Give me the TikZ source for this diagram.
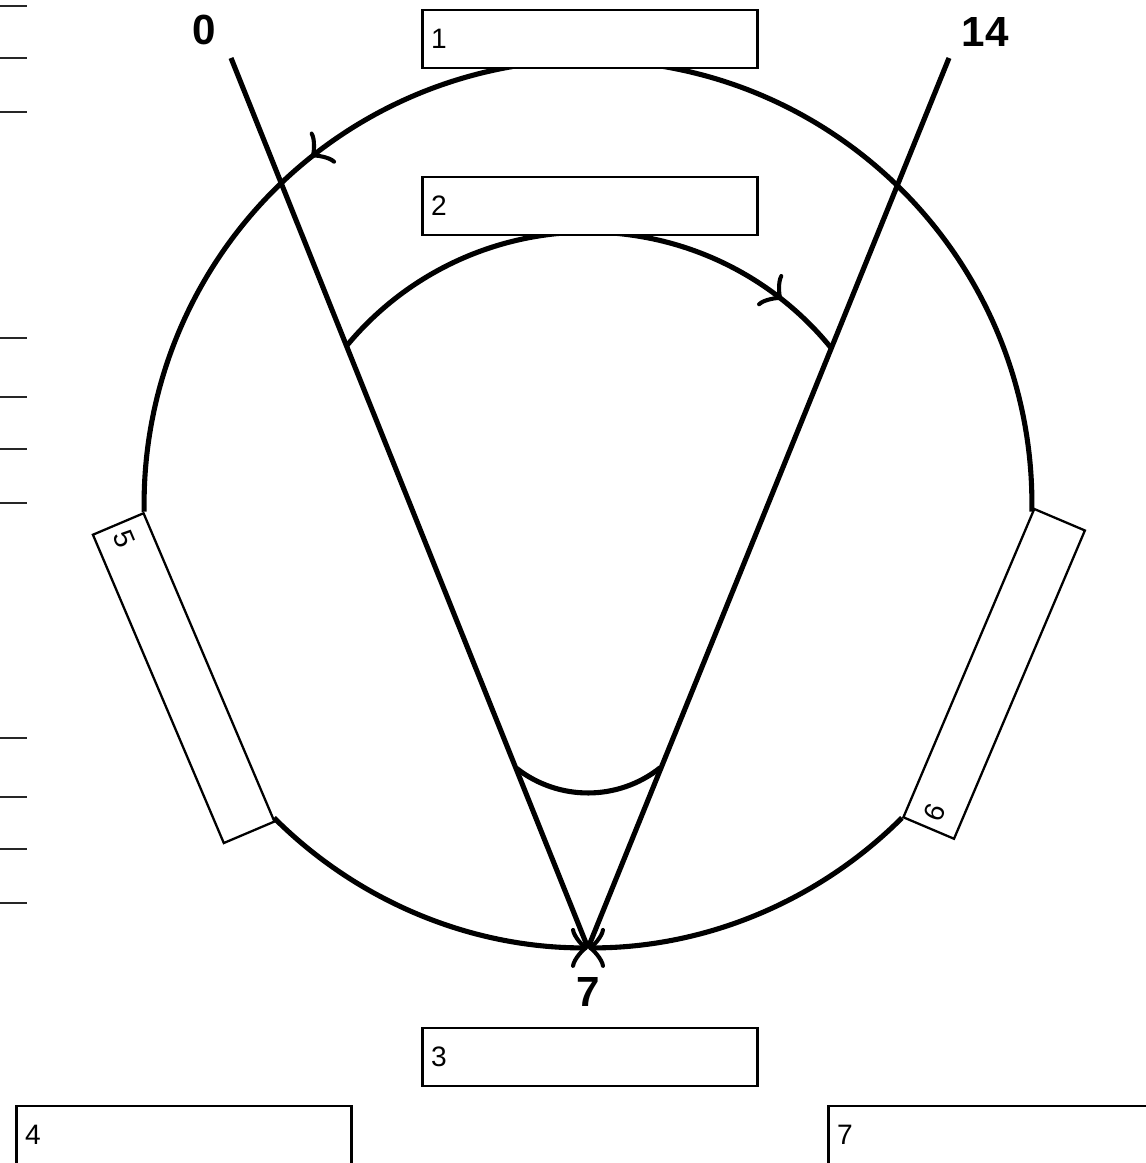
\documentclass[tikz,border=0pt]{standalone}
\usepackage{fontspec}
\setmainfont{Liberation Sans}
\usetikzlibrary{arrows.meta,decorations.markings}

\begin{document}
\begin{tikzpicture}[x=0.02cm, y=0.02cm,
    box/.style={rectangle, draw=black, line width=1.3pt, fill=white, minimum height=1.15cm, text width=6.36cm, inner xsep=0.17cm, align=left, font=\fontsize{16}{18}\selectfont},
    numlabel/.style={font=\fontsize{24}{28}\selectfont\bfseries},
    heavy/.style={line width=2.9pt},
    scalemark/.style={draw=black!85, line width=1.3pt},
    cmbarb/.tip={Classical TikZ Rightarrow[length=3.4mm, width=8mm]},
    midarrow/.style={postaction={decorate}, decoration={markings, mark=at position #1 with {\arrow{cmbarb}}}}
]
\useasboundingbox (0,0) rectangle (1146,1163);
\clip (0,0) rectangle (1146,1163);

% marks on the left edge
\foreach \y in {6,58,112,338,397,449,503,738,797,849,903}
    \draw[scalemark] (0,{1163-\y}) -- (27,{1163-\y});

\coordinate (ctr) at (588,659);
\coordinate (apex) at (588,215);
\coordinate (top0) at (231,1105);
\coordinate (top14) at (949,1105);

% circle in three arcs
\draw[heavy, midarrow=0.712] ([shift={(-1:8.88cm)}]ctr) arc[start angle=-1, end angle=181, radius=8.88cm];
\draw[heavy, -{cmbarb}] ([shift={(225:8.88cm)}]ctr) arc[start angle=225, end angle=270, radius=8.88cm];
\draw[heavy, -{cmbarb}] ([shift={(-45:8.88cm)}]ctr) arc[start angle=-45, end angle=-90, radius=8.88cm];

% the two rays
\draw[heavy] (apex) -- (top0);
\draw[heavy] (apex) -- (top14);

% inner arcs
\draw[heavy, midarrow=0.875] ([shift={(140.6:6.26cm)}]588,618) arc[start angle=140.6, end angle=39, radius=6.26cm];
\draw[heavy] ([shift={(-128:2.32cm)}]588,486) arc[start angle=-128, end angle=-51.5, radius=2.32cm];

\node[numlabel] (lab0) at (204,1133) {0};
\node[numlabel] (lab14) at (985,1131) {14};
\node[numlabel] (lab7) at (588,171) {7};

\node[box] (b1) at (590,1124) {1};
\node[box] (b2) at (590,957) {2};
\node[box] (b3) at (590,106) {3};
\node[box] (b4) at (184,28) {4};
\node[box] (b7) at (996,28) {7};
\node[box, rotate=-67, anchor=north west, minimum height=1.1cm] (b5) at ([shift={(181:8.88cm)}]ctr) {5};
\node[box, rotate=67, anchor=north west, minimum height=1.1cm] (b6) at ([shift={(-45:8.88cm)}]ctr) {6};
\end{tikzpicture}
\end{document}
